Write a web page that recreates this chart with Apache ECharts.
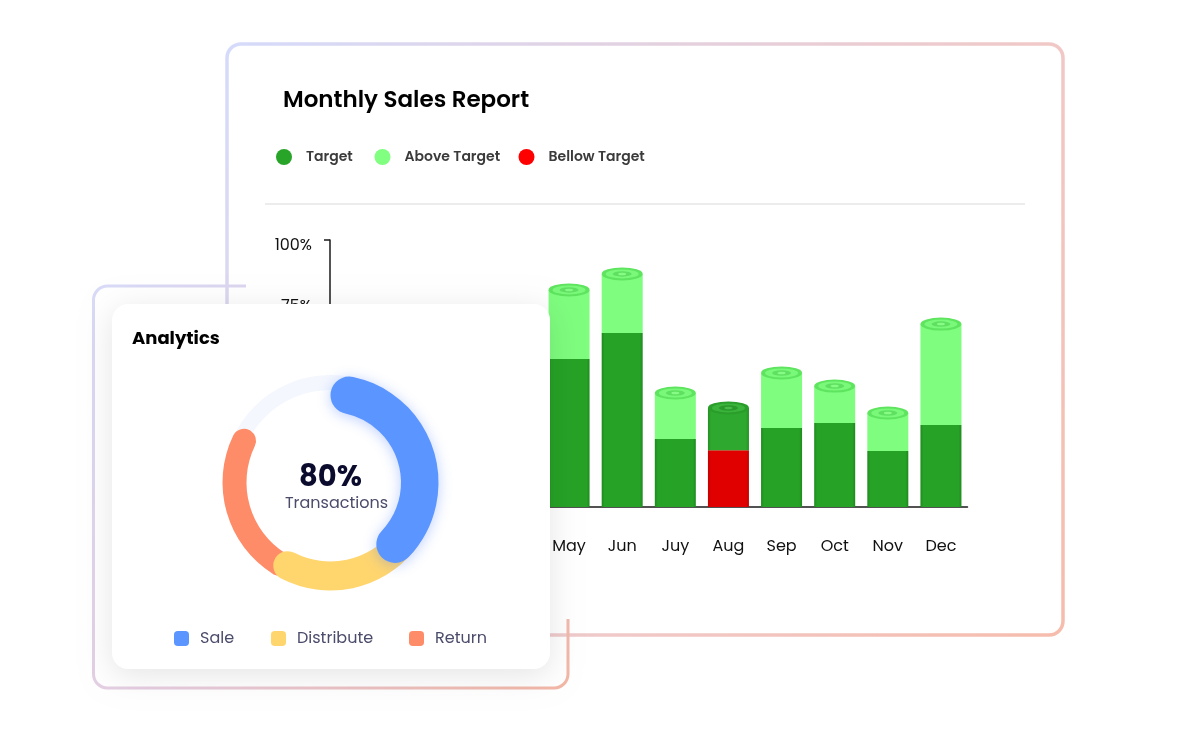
<!DOCTYPE html>
<html>
<head>
<meta charset="utf-8">
<script src="https://cdn.jsdelivr.net/npm/echarts@6/dist/echarts.min.js"></script>
<style>
  html, body { margin: 0; padding: 0; background: #ffffff; }
  #chart { width: 1180px; height: 732px; }
</style>
</head>
<body>
<div id="chart"></div>
<script>
// ---------------- data ----------------
const months = ['Jan', 'Feb', 'Mar', 'Apr', 'May', 'Jun', 'Juy', 'Aug', 'Sep', 'Oct', 'Nov', 'Dec'];
// Jan–Apr are hidden behind the "Analytics" card in the reference
const bellowValues = [null, null, null, null, 0, 0, 0, 21.3, 0, 0, 0, 0];
const targetValues = [null, null, null, null, 55.4, 65.2, 25.5, 15.8, 29.6, 31.5, 21.0, 30.7];
const aboveValues  = [null, null, null, null, 25.9, 22.1, 17.2, 0, 20.6, 13.8, 14.2, 37.8];
const yTickLabels  = ['0%', '25%', '50%', '75%', '100%'];
const legendNames  = ['Target', 'Above Target', 'Bellow Target'];

const donutNames  = ['Sale', 'Distribute', 'Return'];
const donutValues = [40.5, 26.7, 27.2];   // share of the full circle (%)
const centerValue = '80%';
const centerLabel = 'Transactions';

// ---------------- styling / layout ----------------
const FONT = 'Poppins, Inter, "Open Sans", sans-serif';
const G = echarts.graphic;
const augIndex = months.indexOf('Aug');

const totals = months.map((m, i) =>
  targetValues[i] == null ? null : (bellowValues[i] || 0) + (targetValues[i] || 0) + (aboveValues[i] || 0));

function edgeGrad(edge, mid) {
  return new G.LinearGradient(0, 0, 1, 0, [
    { offset: 0, color: edge }, { offset: 0.07, color: mid },
    { offset: 0.93, color: mid }, { offset: 1, color: edge }
  ]);
}

const darkGreen = edgeGrad('#1d8a1d', '#26a226');
const augGreen = edgeGrad('#238f23', '#2ea82e');
const redFill = edgeGrad('#c40000', '#e00000');

function capSeries(size, color, augColor, z) {
  return {
    type: 'pictorialBar',
    symbol: 'circle',
    symbolSize: size,
    symbolPosition: 'end',
    symbolOffset: [0, '-50%'],
    silent: true,
    z: z,
    itemStyle: { color: color },
    data: totals.map((t, i) => t == null ? null :
      (i === augIndex ? { value: t, itemStyle: { color: augColor } } : t))
  };
}

const donutColors = ['#5b95ff', '#ffd56e', '#ff8c69'];
const donutRadius = [[70.5, 108], [79, 108], [84, 108]];
const donutStartClock = [0, 120, 205];   // degrees, clockwise from 12 o'clock
const donutCenter = [330.5, 482.5];

function donutSeries(i, z, extra) {
  const v = donutValues[i];
  const r = donutRadius[i];
  return {
    type: 'pie',
    center: donutCenter,
    radius: r,
    startAngle: 90 - donutStartClock[i],
    clockwise: true,
    silent: true,
    z: z,
    label: { show: false },
    labelLine: { show: false },
    emphasis: { disabled: true },
    data: [
      { name: donutNames[i], value: v,
        itemStyle: Object.assign({ color: donutColors[i], borderRadius: (r[1] - r[0]) / 2 }, extra || {}) },
      { name: '', value: 100 - v, itemStyle: { color: 'rgba(0,0,0,0)' } }
    ]
  };
}

function barLegend(i, left, color) {
  return {
    data: [{ name: legendNames[i], itemStyle: { color: color } }],
    left: left, top: 149, padding: 0,
    icon: 'circle', itemWidth: 16, itemHeight: 16,
    selectedMode: false,
    textStyle: { fontFamily: FONT, fontSize: 14, fontWeight: 600, color: '#3b3b3b', padding: [0, 0, 0, 9] }
  };
}
function donutLegend(i, left) {
  return {
    data: [{ name: donutNames[i], itemStyle: { color: donutColors[i] } }],
    left: left, top: 630.5, padding: 0, z: 60,
    icon: 'roundRect', itemWidth: 15, itemHeight: 15,
    selectedMode: false,
    textStyle: { fontFamily: FONT, fontSize: 16, color: '#4b4b6b', padding: [0, 0, 0, 6] }
  };
}

const chart = echarts.init(document.getElementById('chart'), null, { renderer: 'canvas' });

const option = {
  animation: false,
  backgroundColor: '#ffffff',
  title: {
    text: 'Monthly Sales Report',
    left: 283, top: 90, padding: 0,
    textStyle: { fontFamily: FONT, fontSize: 23, fontWeight: 600, color: '#000000' }
  },
  legend: [
    barLegend(0, 276, '#28a428'),
    barLegend(1, 374.5, '#80ff80'),
    barLegend(2, 518.5, '#ff0000'),
    donutLegend(0, 174),
    donutLegend(1, 271),
    donutLegend(2, 409)
  ],
  grid: { left: 330, top: 240, width: 637.5, height: 267, containLabel: false },
  xAxis: {
    type: 'category',
    data: months,
    z: 5,
    axisLine: { lineStyle: { color: '#1a1a1a', width: 1.5 } },
    axisTick: { alignWithLabel: true, length: 7, lineStyle: { color: '#1a1a1a', width: 1.5 } },
    axisLabel: { margin: 32, fontFamily: FONT, fontSize: 16, color: '#111111' }
  },
  yAxis: {
    type: 'value',
    min: 0, max: 100, interval: 25,
    z: 5,
    splitLine: { show: false },
    axisLine: { show: true, lineStyle: { color: '#1a1a1a', width: 1.5 } },
    axisTick: { show: true, length: 6, lineStyle: { color: '#1a1a1a', width: 1.5 } },
    axisLabel: {
      margin: 18, fontFamily: FONT, fontSize: 16, color: '#111111',
      formatter: (v) => {
        const t = yTickLabels[Math.round(v / 25)];
        return v === 100 ? '{top|' + t + '}' : t;
      },
      rich: { top: { fontFamily: FONT, fontSize: 16, color: '#111111', padding: [12, 0, 0, 0] } }
    }
  },
  graphic: [
    { // main card
      type: 'rect', z: 1, silent: true,
      shape: { x: 227, y: 44, width: 836, height: 591, r: 14 },
      style: {
        fill: '#ffffff', lineWidth: 3.5,
        stroke: new G.LinearGradient(0, 0, 1, 1, [
          { offset: 0, color: '#d5dbfb' }, { offset: 0.667, color: '#f1c8c6' }, { offset: 1, color: '#f6bcac' }
        ])
      }
    },
    { // back outline frame of analytics card
      type: 'rect', z: 2, silent: true,
      shape: { x: 93.5, y: 286, width: 474.5, height: 402, r: 14 },
      style: {
        fill: 'none', lineWidth: 3,
        stroke: new G.LinearGradient(0, 0, 1, 1, [
          { offset: 0, color: '#d8dbf8' }, { offset: 0.5, color: '#e6cde0' }, { offset: 1, color: '#f3b6a4' }
        ])
      }
    },
    { // hides part of the frame
      type: 'rect', z: 3, silent: true,
      shape: { x: 246, y: 279, width: 332, height: 340 },
      style: { fill: '#ffffff' }
    },
    { // separator under legend
      type: 'line', z: 4, silent: true,
      shape: { x1: 265, y1: 204, x2: 1025, y2: 204 },
      style: { stroke: '#e6e6e6', lineWidth: 1.5 }
    },
    { // analytics card
      type: 'rect', z: 50, silent: true,
      shape: { x: 112, y: 304, width: 438, height: 365, r: 16 },
      style: { fill: '#ffffff', shadowBlur: 30, shadowColor: 'rgba(0,0,0,0.10)', shadowOffsetY: 6 }
    },
    {
      type: 'text', z: 60, silent: true,
      style: { text: 'Analytics', x: 132, y: 339, font: '700 18px ' + FONT, fill: '#000000',
               textAlign: 'left', textVerticalAlign: 'middle', align: 'left', verticalAlign: 'middle' }
    },
    {
      type: 'text', z: 60, silent: true,
      style: { text: centerValue, x: 330.5, y: 479, font: '700 29px ' + FONT, fill: '#0b0b2e',
               textAlign: 'center', textVerticalAlign: 'middle', align: 'center', verticalAlign: 'middle' }
    },
    {
      type: 'text', z: 60, silent: true,
      style: { text: centerLabel, x: 336.5, y: 503.5, font: '400 16px ' + FONT, fill: '#4b4b6b',
               textAlign: 'center', textVerticalAlign: 'middle', align: 'center', verticalAlign: 'middle' }
    }
  ],
  series: [
    {
      name: 'Bellow Target', type: 'bar', stack: 'sales', barWidth: 41, z: 10,
      itemStyle: { color: redFill },
      data: bellowValues
    },
    {
      name: 'Target', type: 'bar', stack: 'sales', barWidth: 41, z: 10,
      itemStyle: { color: darkGreen },
      data: targetValues.map((v, i) => i === augIndex ? { value: v, itemStyle: { color: augGreen } } : v)
    },
    {
      name: 'Above Target', type: 'bar', stack: 'sales', barWidth: 41, z: 10,
      itemStyle: { color: '#7efd7e' },
      data: aboveValues
    },
    capSeries([41, 13], '#5fe45f', '#2a9d2a', 11),
    capSeries([33, 9], '#79f879', '#3ab43a', 12),
    capSeries([19, 5.5], '#60e060', '#2a982a', 13),
    capSeries([8, 2.5], '#86fc86', '#47ba47', 14),
    { type: 'pie', center: donutCenter, radius: [92.5, 107.5], silent: true, z: 55,
      label: { show: false }, labelLine: { show: false }, emphasis: { disabled: true },
      data: [{ name: '', value: 1, itemStyle: { color: '#f4f7fe' } }] },
    donutSeries(2, 56),
    donutSeries(1, 57),
    donutSeries(0, 58, { shadowBlur: 14, shadowColor: 'rgba(70,120,255,0.35)', shadowOffsetY: 2 })
  ]
};

chart.setOption(option);
</script>
</body>
</html>
